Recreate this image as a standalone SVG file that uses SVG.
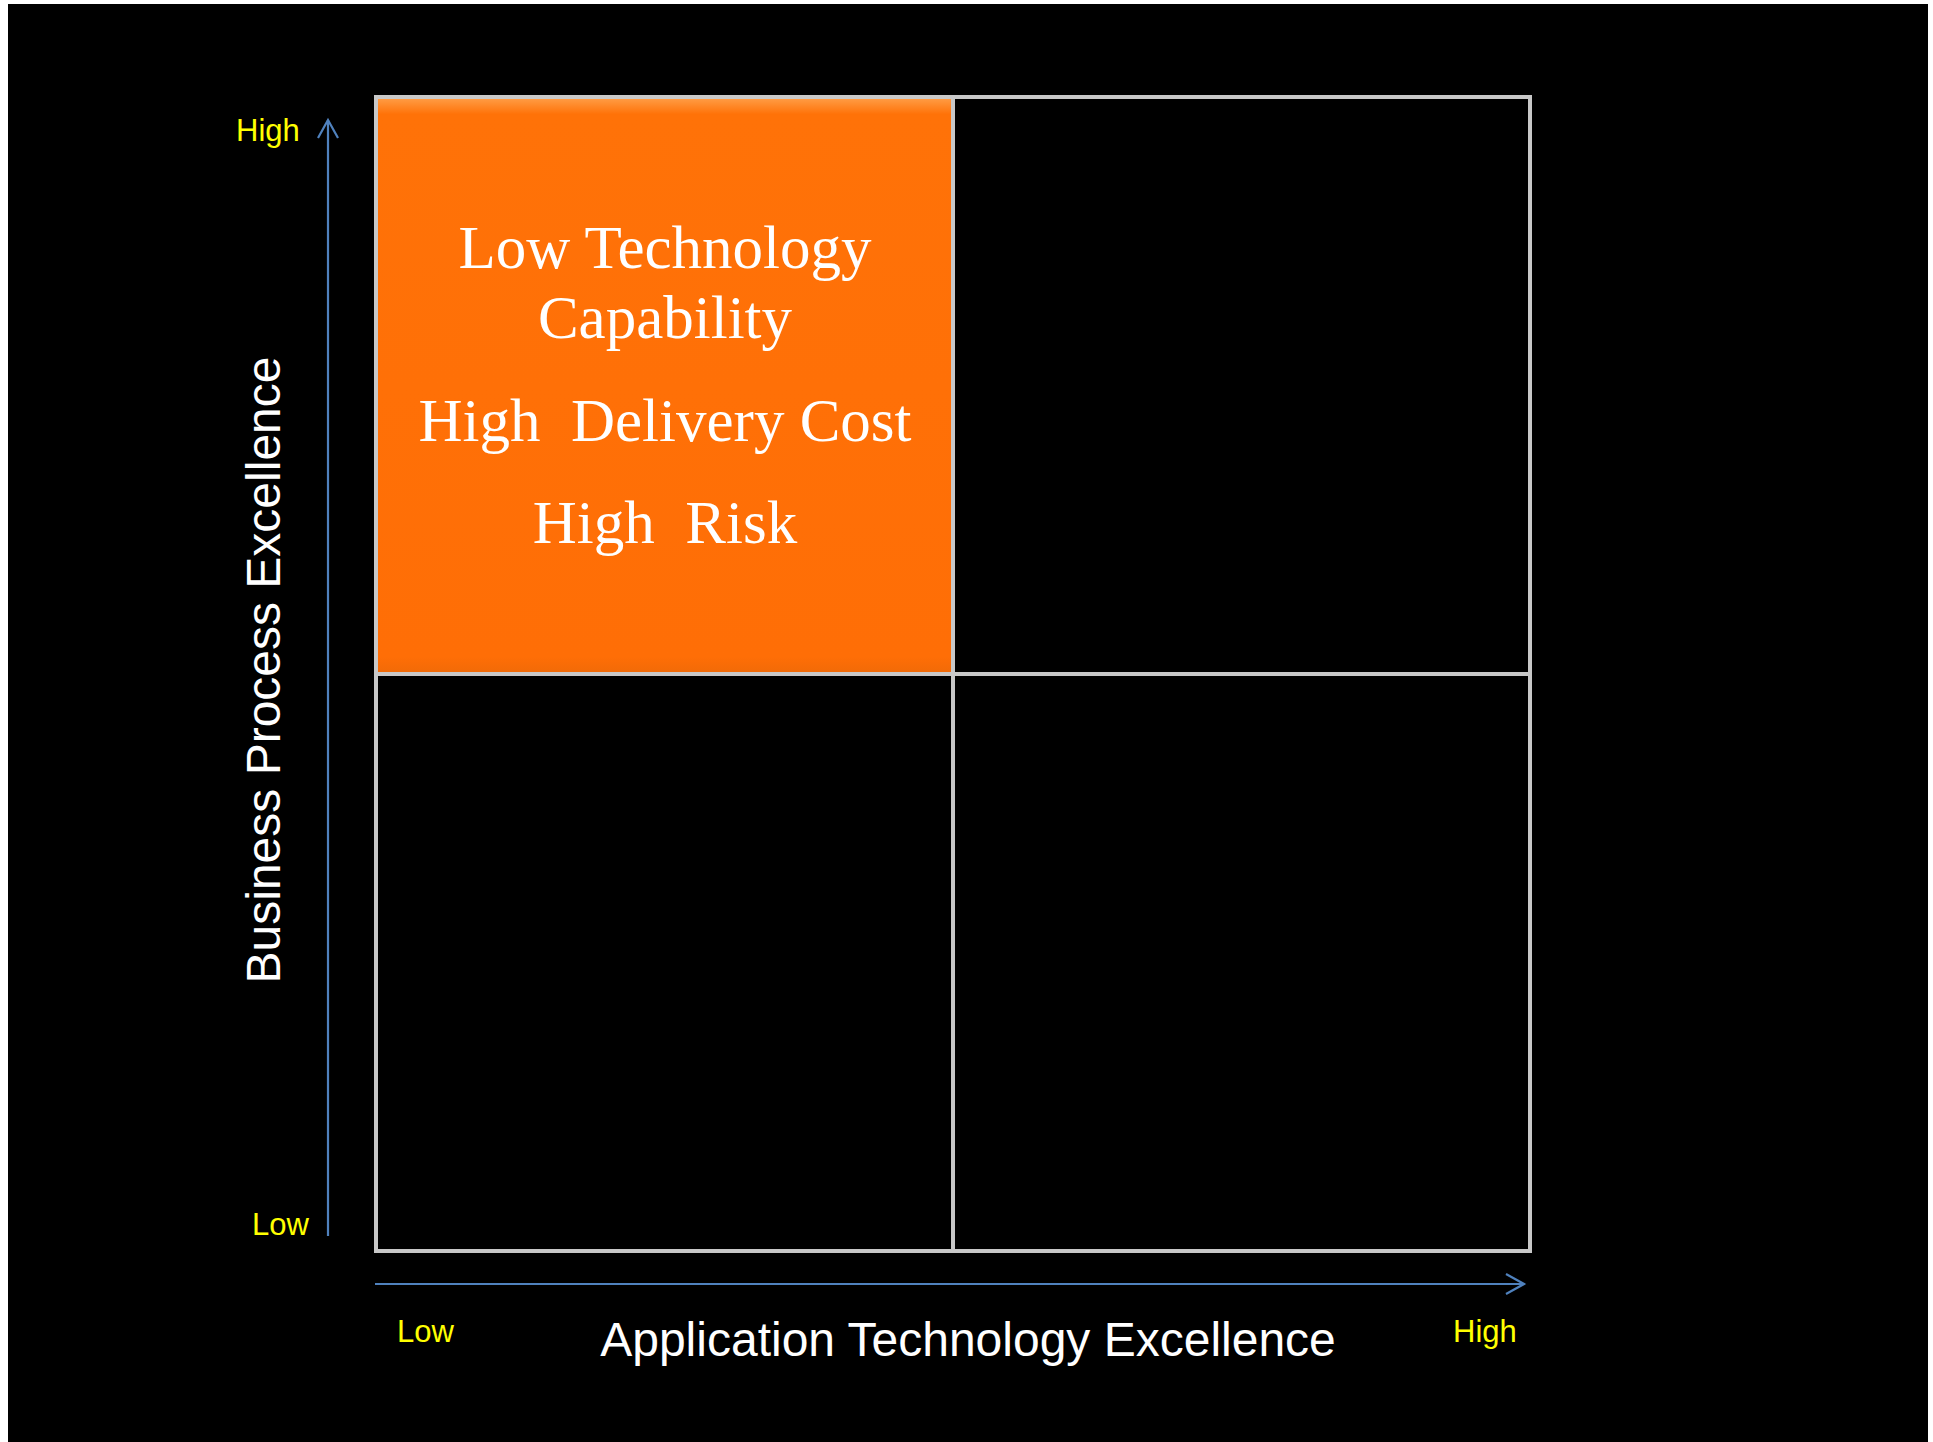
<svg xmlns="http://www.w3.org/2000/svg" width="1933" height="1442" viewBox="0 0 1933 1442">
  <defs>
    <linearGradient id="orangeGrad" x1="0" y1="0" x2="0" y2="1">
      <stop offset="0" stop-color="#FFA04A"/>
      <stop offset="0.03" stop-color="#FF7208"/>
      <stop offset="0.97" stop-color="#FF6E06"/>
      <stop offset="1" stop-color="#F06A08"/>
    </linearGradient>
    <marker id="arrowOpen" markerWidth="24" markerHeight="24" refX="20" refY="12" orient="auto" markerUnits="userSpaceOnUse">
      <path d="M2,2 L20,12 L2,22" fill="none" stroke="#4F81BD" stroke-width="2.2"/>
    </marker>
  </defs>
  <style>
    .axislbl { font-family: "Liberation Sans", Arial, sans-serif; font-size: 31px; fill: #FFFF00; }
    .title { font-family: "Liberation Sans", Arial, sans-serif; font-size: 48px; fill: #FFFFFF; }
    .quad { font-family: "Liberation Serif", "Times New Roman", serif; font-size: 61px; fill: #FFFFFF; white-space: pre; }
    .cell { fill: #000000; stroke: #C8C8C8; stroke-width: 4; }
    .axis { stroke: #4F81BD; stroke-width: 2.2; fill: none; }
  </style>
  <rect x="0" y="0" width="1933" height="1442" fill="#FFFFFF"/>
  <rect x="8" y="4" width="1920" height="1438" fill="#000000"/>

  <g id="cell-bottom-left"><rect class="cell" x="376" y="674" width="577" height="577"/></g>
  <g id="cell-bottom-right"><rect class="cell" x="953" y="674" width="577" height="577"/></g>
  <g id="cell-top-right"><rect class="cell" x="953" y="97" width="577" height="577" stroke="#D8D8D8"/></g>
  <g id="cell-top-left">
    <rect x="376" y="97" width="577" height="577" fill="url(#orangeGrad)" stroke="#C8C8C8" stroke-width="4"/>
    <text class="quad" x="665" y="268" text-anchor="middle">Low Technology</text>
    <text class="quad" x="665" y="338" text-anchor="middle">Capability</text>
    <text class="quad" x="665" y="441" text-anchor="middle">High  Delivery Cost</text>
    <text class="quad" x="665" y="543" text-anchor="middle">High  Risk</text>
  </g>

  <g id="connectors">
    <line class="axis" x1="328" y1="1236" x2="328" y2="120" marker-end="url(#arrowOpen)"/>
    <line class="axis" x1="375" y1="1284" x2="1524" y2="1284" marker-end="url(#arrowOpen)"/>
  </g>

  <g id="labels">
    <text class="axislbl" x="236" y="141">High</text>
    <text class="axislbl" x="252" y="1235">Low</text>
    <text class="axislbl" x="397" y="1342">Low</text>
    <text class="axislbl" x="1453" y="1342">High</text>
    <text class="title" x="968" y="1356" text-anchor="middle">Application Technology Excellence</text>
    <text class="title" transform="translate(280,670) rotate(-90)" text-anchor="middle">Business Process Excellence</text>
  </g>
</svg>
